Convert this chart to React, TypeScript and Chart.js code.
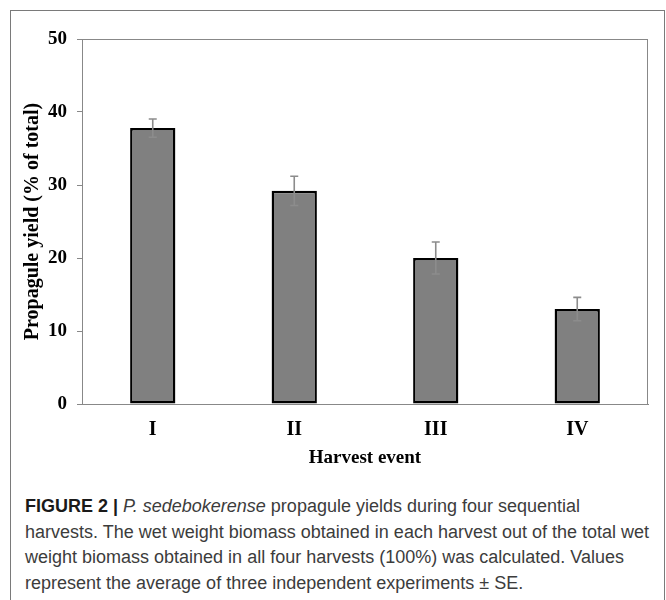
import React, { useEffect, useRef } from "react";
import { Chart, registerables } from "chart.js";

Chart.register(...registerables);

const categories = ["I", "II", "III", "IV"];
const yieldValues = [37.8, 29.2, 20.0, 13.0];
const yieldErrors = [1.25, 2.0, 2.2, 1.6];
const yTicks = [0, 10, 20, 30, 40, 50];

const errorBarPlugin = {
  id: "errorBars",
  afterDatasetsDraw(chart: any) {
    const meta = chart.getDatasetMeta(0);
    const yScale = chart.scales.y;
    const ctx = chart.ctx;
    ctx.save();
    ctx.strokeStyle = "#8c8c8c";
    ctx.lineWidth = 1.6;
    meta.data.forEach((bar: any, i: number) => {
      const v = yieldValues[i];
      const e = yieldErrors[i];
      const top = yScale.getPixelForValue(v + e);
      const bot = yScale.getPixelForValue(v - e);
      const x = bar.x;
      ctx.beginPath();
      ctx.moveTo(x, top);
      ctx.lineTo(x, bot);
      ctx.moveTo(x - 4, top);
      ctx.lineTo(x + 4, top);
      ctx.moveTo(x - 4, bot);
      ctx.lineTo(x + 4, bot);
      ctx.stroke();
    });
    ctx.restore();
  },
};

const framePlugin = {
  id: "frame",
  beforeDatasetsDraw(chart: any) {
    const { left, right, top, bottom } = chart.chartArea;
    const ctx = chart.ctx;
    ctx.save();
    ctx.strokeStyle = "#888888";
    ctx.lineWidth = 1;
    ctx.strokeRect(left + 0.5, top + 0.5, right - left - 1, bottom - top);
    ctx.restore();
  },
};

export default function App() {
  const canvasRef = useRef<HTMLCanvasElement | null>(null);

  useEffect(() => {
    if (!canvasRef.current) return;
    const chart = new Chart(canvasRef.current, {
      type: "bar",
      data: {
        labels: categories,
        datasets: [
          {
            data: yieldValues,
            backgroundColor: "#808080",
            borderColor: "#000000",
            borderWidth: 2.4,
            borderSkipped: false,
            barPercentage: 0.32,
            categoryPercentage: 1,
          },
        ],
      },
      options: {
        animation: false,
        responsive: false,
        devicePixelRatio: 1,
        layout: { padding: { left: 0, right: 18, top: 39, bottom: 0 } },
        plugins: {
          legend: { display: false },
          tooltip: { enabled: false },
        },
        scales: {
          x: {
            grid: { display: false, drawTicks: false },
            border: { display: true, color: "#888888" },
            ticks: {
              color: "#000",
              padding: 14,
              font: { family: "'Liberation Serif', 'DejaVu Serif', serif", size: 20, weight: "bold" },
            },
            title: {
              display: true,
              text: "Harvest event",
              color: "#000",
              padding: { top: 6, bottom: 6 },
              font: { family: "'Liberation Serif', 'DejaVu Serif', serif", size: 19, weight: "bold" },
            },
            afterFit(scale: any) {
              scale.height = 71;
            },
          },
          y: {
            min: 0,
            max: 50,
            afterBuildTicks(scale: any) {
              scale.ticks = yTicks.map((v) => ({ value: v }));
            },
            grid: {
              display: true,
              drawOnChartArea: false,
              drawTicks: true,
              tickLength: 5,
              color: "#888888",
            },
            border: { display: true, color: "#888888" },
            ticks: {
              color: "#000",
              padding: 10,
              font: { family: "'Liberation Serif', 'DejaVu Serif', serif", size: 19, weight: "bold" },
            },
            title: {
              display: true,
              text: "Propagule yield (% of total)",
              color: "#000",
              padding: { top: 21, bottom: 0 },
              font: { family: "'Liberation Serif', 'DejaVu Serif', serif", size: 20, weight: "bold" },
            },
            afterFit(scale: any) {
              scale.width = 82;
            },
          },
        },
      },
      plugins: [framePlugin, errorBarPlugin],
    });
    return () => chart.destroy();
  }, []);

  return (
    <div style={{ position: "absolute", left: 0, top: 0, width: 666, height: 600, overflow: "hidden", background: "#fff" }}>
      <div
        style={{
          position: "absolute",
          left: 10,
          top: 10,
          width: 655,
          height: 640,
          boxSizing: "border-box",
          border: "1px solid #7a7a7a",
        }}
      />
      <canvas ref={canvasRef} width={666} height={475} style={{ position: "absolute", left: 0, top: 0, width: 666, height: 475 }} />
      <div
        style={{
          position: "absolute",
          left: 25,
          top: 494,
          fontFamily: "'Liberation Sans', Arial, sans-serif",
          fontSize: 18,
          lineHeight: "25.5px",
          color: "#3c3c3c",
          whiteSpace: "nowrap",
        }}
      >
        <b style={{ color: "#1a1a1a" }}>FIGURE 2 |</b> <i>P. sedebokerense</i> propagule yields during four sequential
        <br />
        harvests. The wet weight biomass obtained in each harvest out of the total wet
        <br />
        weight biomass obtained in all four harvests (100%) was calculated. Values
        <br />
        represent the average of three independent experiments ± SE.
      </div>
    </div>
  );
}
